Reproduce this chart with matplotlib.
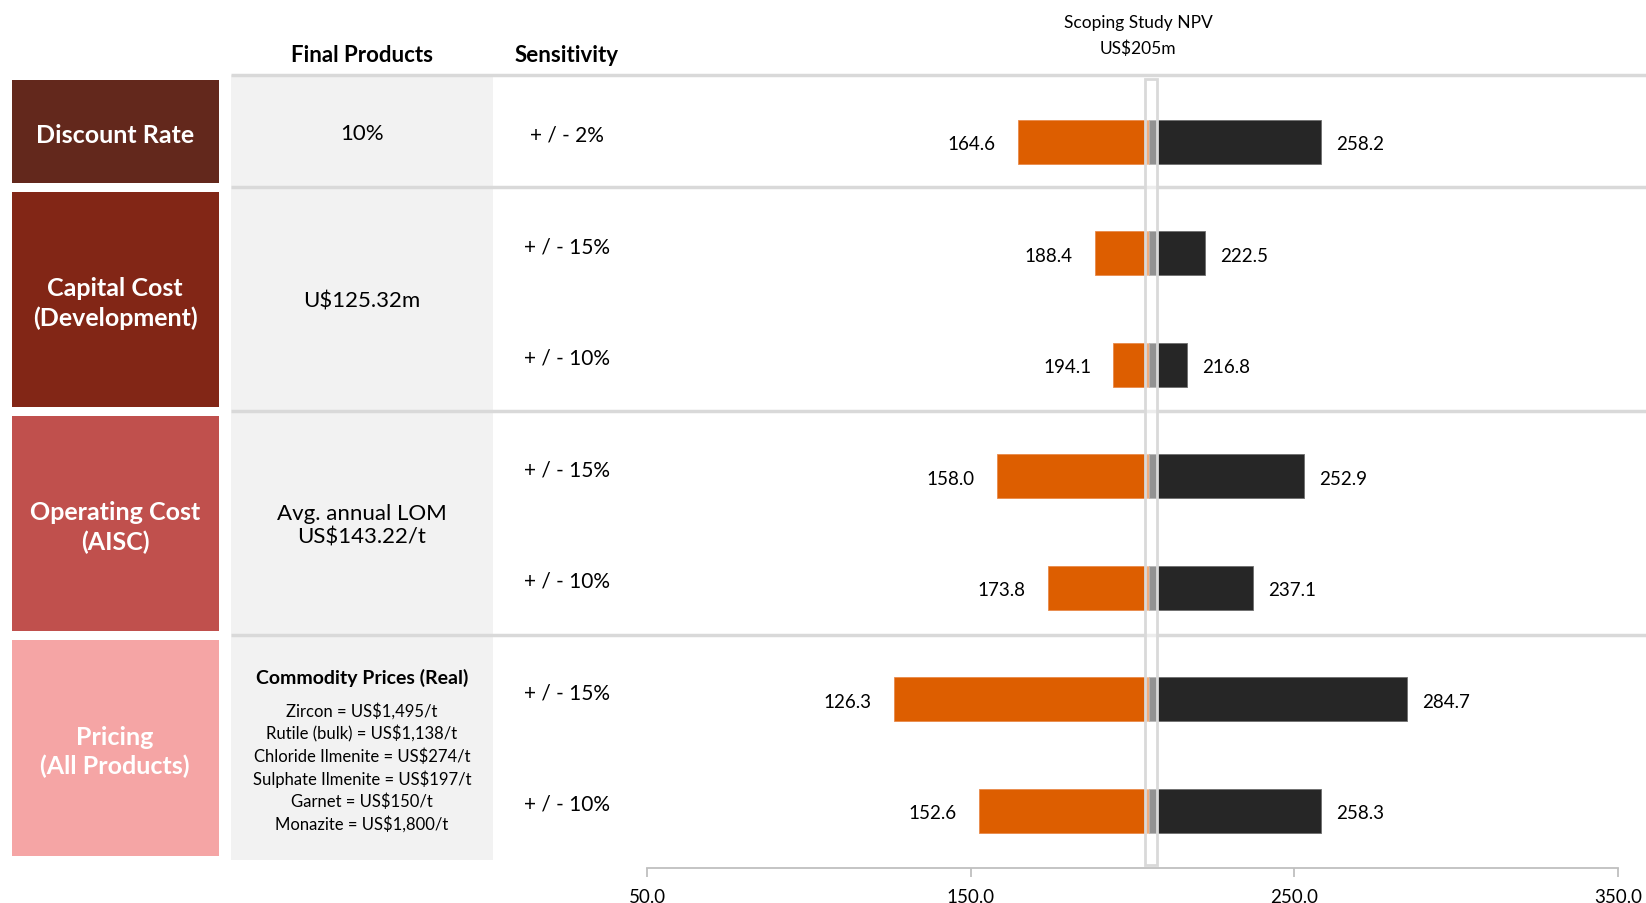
"""Draws the NPV sensitivity tornado chart with its lookup table."""

import matplotlib.pyplot as plt
from matplotlib.patches import Rectangle
from matplotlib.ticker import FormatStrFormatter

plt.rcParams['font.family'] = ['Lato', 'DejaVu Sans']

# Inputs
npv_base = 205.0
npv_title = ['Scoping Study NPV', 'US$205m']
drivers = ['Discount Rate', 'Capital Cost\n(Development)',
           'Operating Cost\n(AISC)', 'Pricing\n(All Products)']
driver_colors = ['#63281C', '#822616', '#C0504D', '#F5A5A5']
final_products = ['10%', 'U$125.32m', 'Avg. annual LOM\nUS$143.22/t', None]
price_title = 'Commodity Prices (Real)'
price_lines = ['Zircon = US$1,495/t', 'Rutile (bulk) = US$1,138/t',
               'Chloride Ilmenite = US$274/t', 'Sulphate Ilmenite = US$197/t',
               'Garnet = US$150/t', 'Monazite = US$1,800/t']
sensitivity = ['+ / - 2%', '+ / - 15%', '+ / - 10%', '+ / - 15%',
               '+ / - 10%', '+ / - 15%', '+ / - 10%']
npv_low = [164.6, 188.4, 194.1, 158.0, 173.8, 126.3, 152.6]
npv_high = [258.2, 222.5, 216.8, 252.9, 237.1, 284.7, 258.3]
x_ticks = [50, 150, 250, 350]

ORANGE = '#DD5E00'
DARK = '#262626'
LINE = '#D9D9D9'
PANEL = '#F2F2F2'

W, H = 1646, 904
fig = plt.figure(figsize=(W / 100, H / 100), dpi=100)

# Background layer in pixel coordinates for the table part
bg = fig.add_axes([0, 0, 1, 1])
bg.set_xlim(0, W)
bg.set_ylim(H, 0)
bg.axis('off')

table_top, table_bottom = 76, 861
row_y = [142.8 + 111.5 * i for i in range(len(sensitivity))]
group_edges = [76, 188, 412, 636, 861]

bg.add_patch(Rectangle((231, table_top), 262, table_bottom - table_top,
                       facecolor=PANEL, edgecolor='none', zorder=0))
for y in group_edges[:-1]:
    bg.plot([231, W], [y, y], color=LINE, lw=2.5, zorder=1,
            solid_capstyle='butt')

bg.text(362, 56, 'Final Products', ha='center', va='center',
        fontsize=16, fontweight='bold')
bg.text(567, 56, 'Sensitivity', ha='center', va='center',
        fontsize=16, fontweight='bold')
bg.text(1138, 23, npv_title[0], ha='center', va='center', fontsize=12.5)
bg.text(1138, 49, npv_title[1], ha='center', va='center', fontsize=12.5)

for i, (name, color) in enumerate(zip(drivers, driver_colors)):
    top = group_edges[i] + 5
    bottom = group_edges[i + 1] - 4
    bg.add_patch(Rectangle((12, top), 207, bottom - top,
                           facecolor=color, edgecolor='none', zorder=1))
    bg.text(115, (top + bottom) / 2 + 3, name, ha='center', va='center',
            color='white', fontsize=18, fontweight='bold',
            linespacing=1.3)
    if final_products[i] is not None:
        bg.text(362, (group_edges[i] + group_edges[i + 1]) / 2 + 2,
                final_products[i], ha='center', va='center', fontsize=16,
                linespacing=1.25)

# Price list under the pricing driver
bg.text(362, 678, price_title, ha='center', va='center',
        fontsize=14, fontweight='bold')
for k, line in enumerate(price_lines):
    bg.text(362, 711 + 22.7 * k, line, ha='center', va='center',
            fontsize=12)

for y, label in zip(row_y, sensitivity):
    bg.text(567, y - 7, label, ha='center', va='center', fontsize=15)

# Tornado bars
ax_left, ax_right, ax_top, ax_bottom = 647, 1618, 76, 869
ax = fig.add_axes([ax_left / W, 1 - ax_bottom / H,
                   (ax_right - ax_left) / W, (ax_bottom - ax_top) / H])
ax.patch.set_alpha(0)
ax.set_xlim(x_ticks[0], x_ticks[-1])
ax.set_ylim(ax_bottom, ax_top)

low_width = [npv_base - v for v in npv_low]
high_width = [v - npv_base for v in npv_high]
ax.barh(row_y, low_width, left=npv_low, height=44, color=ORANGE,
        edgecolor='#E9894A', lw=0.6, zorder=2)
ax.barh(row_y, high_width, left=npv_base, height=44, color=DARK,
        edgecolor='#6E6E6E', lw=0.6, zorder=2)

for y, lo, hi in zip(row_y, npv_low, npv_high):
    ax.annotate(f'{lo:.1f}', (lo, y + 2), xytext=(-16, 0),
                textcoords='offset points', ha='right', va='center',
                fontsize=13.5)
    ax.annotate(f'{hi:.1f}', (hi, y + 2), xytext=(11, 0),
                textcoords='offset points', ha='left', va='center',
                fontsize=13.5)

# Base case marker
ax.add_patch(Rectangle((npv_base - 1.2, 80), 3.7, 786,
                       facecolor=(1, 1, 1, 0.5), edgecolor=LINE, lw=2,
                       zorder=3, clip_on=False))

for side in ['top', 'left', 'right']:
    ax.spines[side].set_visible(False)
ax.spines['bottom'].set_color('#BFBFBF')
ax.spines['bottom'].set_linewidth(1.3)
ax.set_yticks([])
ax.set_xticks(x_ticks)
ax.xaxis.set_major_formatter(FormatStrFormatter('%.1f'))
ax.tick_params(axis='x', length=6.5, width=1.3, color='#BFBFBF',
               labelsize=13.5, pad=8)

fig.savefig('out.png', dpi=100)
